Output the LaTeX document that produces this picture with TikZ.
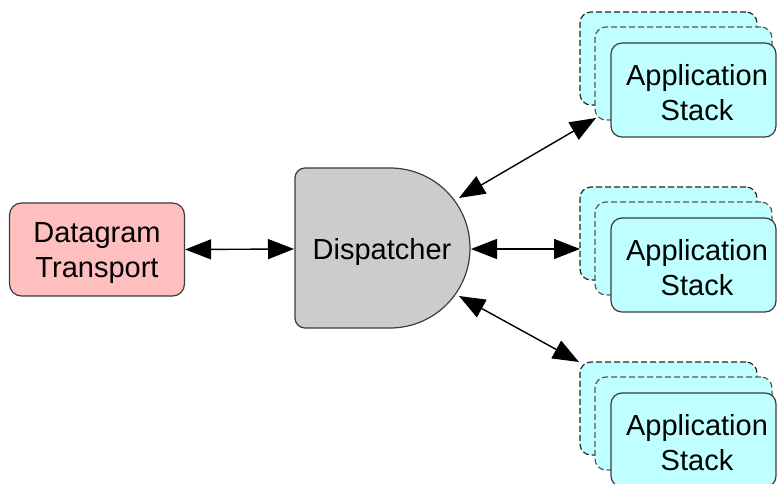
\documentclass[tikz,border=0pt]{standalone}
\usepackage{fontspec}
\setmainfont{Liberation Sans}
\usetikzlibrary{arrows.meta}
\definecolor{pinkfill}{RGB}{255,191,191}
\definecolor{cyanfill}{RGB}{191,255,255}
\definecolor{greyfill}{RGB}{204,204,204}
\definecolor{edge}{RGB}{60,60,60}
\tikzset{
  lbl/.style={font=\fontsize{29}{34.5}\selectfont, align=center, text=black},
  dtbox/.style={draw=edge, line width=1.2pt, fill=pinkfill, rounded corners=12pt, minimum width=175pt, minimum height=93pt},
  backbox/.style={draw=black!85, dash pattern=on 6pt off 3pt, line width=1.2pt, fill=cyanfill, rounded corners=11pt, minimum width=177pt, minimum height=93pt},
  midbox/.style={draw=black!65, dash pattern=on 6pt off 3pt, line width=1.2pt, fill=cyanfill, rounded corners=11pt, minimum width=177pt, minimum height=93pt},
  frontbox/.style={draw=edge, line width=1.2pt, fill=cyanfill, rounded corners=11pt, minimum width=165pt, minimum height=94pt, inner sep=0pt},
  dblarrow/.style={{Triangle[length=26pt,width=20pt]}-{Triangle[length=26pt,width=20pt]}, line width=1.4pt, draw=black}
}
\begin{document}
\begin{tikzpicture}[x=1pt,y=-1pt]
\useasboundingbox (0,0) rectangle (777,484);
\begin{scope}
\clip (0,0) rectangle (777,484);
% Datagram Transport
\node[dtbox] (dt) at (97,249.5) {};
\node[lbl] (dttext) at (97,253) {Datagram\\Transport};
% Dispatcher
\path[draw=edge, line width=1.2pt, fill=greyfill] (390,168) -- (305,168) arc[start angle=-90,end angle=-180,radius=10] -- (295,318) arc[start angle=180,end angle=90,radius=10] -- (390,328) arc[start angle=90,end angle=-90,radius=80] -- cycle;
\node[lbl] (disp) at (382,252) {Dispatcher};
\coordinate (dL) at (294,249);
\coordinate (dR) at (471,249);
\coordinate (dTop) at (459,198);
\coordinate (dBot) at (459,296);
% Application stacks
\foreach \i/\oy in {1/0,2/175,3/350}{
  \node[backbox] (b\i) at (668.5,58.5+\oy) {};
  \node[midbox] (m\i) at (683.5,73.5+\oy) {};
  \node[frontbox] (f\i) at (693.5,90+\oy) {};
  \node[lbl] (t\i) at (697,92.5+\oy) {Application\\Stack};
}
\coordinate (a1) at (596,118);
\coordinate (a2) at (580,249);
\coordinate (a3) at (579,362);
\end{scope}
% Connectors
\draw[dblarrow] (dt.east) -- (dL);
\draw[dblarrow] (dR) -- (a2);
\draw[dblarrow] (dTop) -- (a1);
\draw[dblarrow] (dBot) -- (a3);
\end{tikzpicture}
\end{document}
